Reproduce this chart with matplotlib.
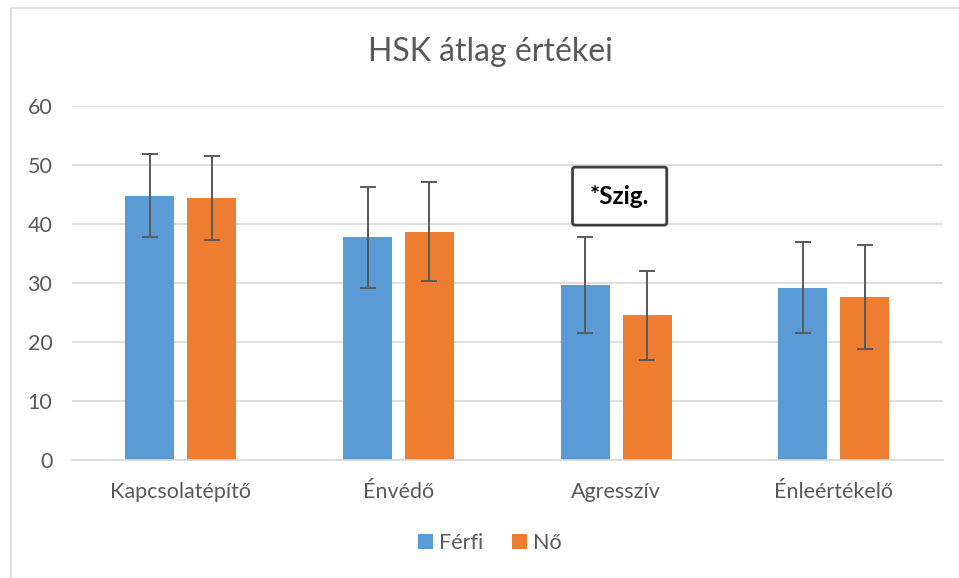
import matplotlib
matplotlib.use("Agg")
import matplotlib.pyplot as plt
import numpy as np
from matplotlib.patches import Rectangle

plt.rcParams["font.family"] = ["Lato", "DejaVu Sans"]

categories = ["Kapcsolatépítő", "Énvédő", "Agresszív", "Énleértékelő"]
ferfi_mean = [44.8, 37.7, 29.7, 29.2]
ferfi_sd = [6.95, 8.6, 8.15, 7.65]
no_mean = [44.4, 38.7, 24.5, 27.6]
no_sd = [7.1, 8.35, 7.6, 8.8]
yticks = [0, 10, 20, 30, 40, 50, 60]

BLUE = "#5B9BD5"
ORANGE = "#ED7D31"
GREY = "#595959"

fig = plt.figure(figsize=(9.59, 5.78), dpi=100)
ax = fig.add_axes([0.075, 0.204, 0.908, 0.613])

# chart border like an office chart frame
fig.patches.append(Rectangle((11 / 959, -0.01), 1.0, 1 - 8 / 578 + 0.01,
                             transform=fig.transFigure, fill=False,
                             edgecolor="#D9D9D9", linewidth=1.2))

x = np.arange(len(categories))
w = 0.225
off = 0.142
err_kw = dict(ecolor=GREY, elinewidth=1.4, capsize=6, capthick=1.4)
ax.bar(x - off, ferfi_mean, w, yerr=ferfi_sd, color=BLUE, label="Férfi",
       zorder=2, error_kw=err_kw)
ax.bar(x + off, no_mean, w, yerr=no_sd, color=ORANGE, label="Nő",
       zorder=2, error_kw=err_kw)

ax.set_xlim(-0.5, len(categories) - 0.5)
ax.set_ylim(0, 60)
ax.set_yticks(yticks)
ax.set_xticks(x)
ax.set_xticklabels(categories)
ax.grid(axis="y", color="#D9D9D9", linewidth=1.2, zorder=0)
ax.set_axisbelow(True)
for s in ["top", "right", "left"]:
    ax.spines[s].set_visible(False)
ax.spines["bottom"].set_color("#D9D9D9")
ax.spines["bottom"].set_linewidth(1.2)
ax.tick_params(axis="both", length=0, labelsize=15.5, colors=GREY)
ax.tick_params(axis="x", pad=16)
ax.tick_params(axis="y", pad=14)

fig.text(0.511, 0.91, "HSK átlag értékei", ha="center", va="center",
         fontsize=23, color=GREY)

ax.text(2.016, 44.7, "*Szig.", ha="center", va="center",
        fontsize=17.5, fontweight="bold", color="black", zorder=5,
        bbox=dict(boxstyle="round,pad=0.72,rounding_size=0.1",
                  facecolor="white", edgecolor="#404040", linewidth=2))

ax.legend(loc="center", bbox_to_anchor=(0.48, -0.235), ncol=2, frameon=False,
          fontsize=15.5, handlelength=0.7, handleheight=0.7, handletextpad=0.3,
          columnspacing=1.3, labelcolor=GREY)

fig.savefig("out.png", dpi=100)
